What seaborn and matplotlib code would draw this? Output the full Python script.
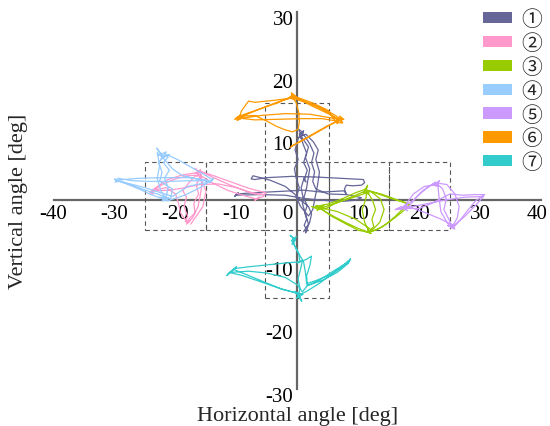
import matplotlib
matplotlib.use("Agg")
import matplotlib.pyplot as plt
import matplotlib.transforms as mtransforms
from matplotlib.patches import Patch, Rectangle
import seaborn as sns

sns.set_theme(style="white")
plt.rcParams["font.family"] = ["Liberation Serif", "Noto Sans CJK JP", "DejaVu Sans"]

# ---------------- data (degrees: horizontal, vertical) ----------------
labels = ["①", "②", "③", "④", "⑤", "⑥", "⑦"]
colors = ["#666699", "#FF99CC", "#99CC00", "#99CCFF", "#CC99FF", "#FF9900", "#33CCCC"]

traj1 = [(0.5, 10.5), (0.2, 11.3), (0.9, 10.8), (0.3, 10.0), (1.0, 11.1), (0.6, 9.8), (0.4, 10.6),
         (0.9, 9.0), (1.5, 7.5), (1.0, 6.0), (1.6, 4.8), (1.2, 3.5), (1.0, 3.3), (1.4, 2.9), (1.1, 3.6),
         (0.6, 2.0), (0.9, 0.5), (1.6, -0.8), (1.2, -2.0), (1.5, -3.0), (1.1, -4.0), (1.6, -4.8), (1.3, -5.2),
         (2.0, -3.5), (2.3, -2.2), (1.8, -1.0), (0.5, 0.0), (-0.5, 1.0), (-2.0, 2.2), (-4.5, 3.2), (-7.3, 3.9),
         (-7.6, 3.4), (-7.0, 3.3), (-5.0, 3.6), (-1.0, 3.8), (3.0, 3.7), (7.0, 3.5), (10.8, 3.3), (11.0, 2.8),
         (10.5, 2.4), (9.0, 2.3), (8.0, 2.4), (7.7, 1.8), (8.0, 1.0), (7.6, 1.5),
         (4.0, 1.3), (1.0, 1.6), (-3.0, 1.4), (-7.0, 1.2), (-10.0, 1.0), (-10.3, 0.6), (-9.7, 1.2), (-10.1, 0.8),
         (-6.0, 0.9), (-2.0, 0.8), (1.0, 0.3), (4.0, 0.0), (7.0, -0.2), (9.5, 0.0), (10.5, 0.4),
         (8.0, 0.9), (5.0, 1.0), (3.0, 1.8), (2.5, 3.0), (2.8, 4.5), (2.3, 6.0), (2.7, 7.5), (2.0, 9.0),
         (1.2, 10.2), (0.6, 10.8), (0.0, 9.5), (-0.4, 8.0), (0.1, 6.5), (-0.5, 5.0), (-0.2, 3.5), (0.3, 2.0),
         (-0.2, 0.5), (0.5, -1.0), (1.8, -2.5), (2.5, -1.5), (2.9, 0.5), (3.3, 2.5), (3.6, 4.5), (3.0, 6.5),
         (3.4, 8.0), (2.6, 9.3), (1.4, 10.5), (0.5, 10.3), (1.8, 8.5), (1.3, 6.8), (2.0, 5.0), (1.5, 2.0),
         (0.8, -0.5), (1.8, -3.8), (1.0, -5.0)]

traj2 = [(-16.3, 4.5), (-16.8, 5.1), (-15.8, 4.2), (-16.5, 3.8), (-15.9, 4.9), (-16.7, 4.3), (-16.1, 4.6),
         (-14.0, 4.0), (-12.0, 3.3), (-10.0, 2.6), (-8.0, 1.9), (-6.0, 1.4), (-5.2, 1.2),
         (-5.6, 0.6), (-6.5, 0.3), (-7.0, 0.0), (-6.2, 0.5), (-6.8, 0.2),
         (-9.0, 0.8), (-11.5, 1.6), (-14.0, 2.8), (-15.8, 3.9),
         (-16.6, 2.5), (-16.2, 1.0), (-17.0, -0.5), (-16.8, -2.0), (-17.8, -3.0), (-18.2, -3.8),
         (-17.6, -3.3), (-18.4, -3.4), (-18.0, -2.6),
         (-18.6, -1.0), (-18.2, 0.5), (-18.8, 1.5), (-17.8, 2.8), (-16.6, 4.0),
         (-18.0, 3.9), (-20.0, 3.4), (-22.0, 2.6), (-24.0, 1.4), (-23.6, 1.0), (-24.2, 1.2), (-23.4, 1.5),
         (-21.0, 1.6), (-19.0, 1.9), (-16.0, 2.5), (-13.0, 2.6), (-10.0, 2.0), (-7.0, 1.0), (-5.5, 0.9),
         (-8.0, 1.3), (-11.0, 2.4), (-14.0, 3.7), (-16.0, 4.7),
         (-15.6, 3.0), (-15.9, 1.0), (-16.3, -1.0), (-17.2, -2.8), (-18.0, -3.6),
         (-19.2, -2.0), (-19.5, -0.5), (-20.0, 1.0), (-21.5, 2.0), (-23.8, 1.6),
         (-21.5, 3.2), (-19.0, 4.0), (-16.5, 4.4), (-16.0, 3.6), (-15.0, 1.5), (-15.5, -1.0), (-17.5, -3.8)]

traj3 = [(3.5, -1.2), (2.3, -1.0), (3.5, -1.5), (4.3, -0.8), (3.2, -1.6), (4.0, -1.1), (3.0, -0.9), (4.5, -1.4),
         (6.0, -0.6), (8.0, 0.2), (10.0, 1.0), (11.2, 1.5),
         (11.5, 2.4), (10.9, 1.2), (11.7, 1.0), (11.1, 1.9), (11.4, 1.4),
         (12.3, 0.0), (12.8, -1.5), (12.2, -3.0), (12.5, -4.2), (11.6, -5.1),
         (11.2, -5.0), (12.1, -5.3), (11.5, -4.7), (11.9, -5.2),
         (10.0, -4.5), (8.0, -3.6), (6.0, -2.6), (4.0, -1.5),
         (3.0, -1.0), (5.0, -0.6), (7.5, 0.3), (9.5, 1.2), (11.0, 1.7),
         (13.0, 1.1), (15.0, 0.4), (17.0, -0.2), (18.4, -0.7),
         (17.0, -2.0), (15.0, -3.5), (13.2, -4.6), (12.0, -5.0),
         (13.5, -3.5), (14.2, -1.5), (13.6, 0.2), (12.0, 1.4),
         (9.0, 0.4), (6.0, -0.5), (3.8, -1.3),
         (5.5, -2.5), (8.0, -3.8), (10.0, -4.8), (11.8, -5.1),
         (11.0, -3.5), (10.6, -1.5), (11.2, 0.2), (11.4, 1.6),
         (14.0, 0.9), (16.5, 0.0), (18.2, -0.5), (16.0, -2.6), (14.0, -4.2), (12.4, -4.9),
         (9.5, -3.0), (6.5, -1.8), (3.5, -1.1)]

traj4 = [(-22.5, 7.5), (-23.1, 8.3), (-22.0, 7.0), (-21.0, 7.3), (-22.4, 6.6), (-21.5, 7.7), (-22.8, 7.2), (-21.2, 6.9),
         (-22.0, 6.0), (-21.0, 4.8), (-21.8, 3.5), (-21.2, 2.0), (-21.6, 0.3),
         (-22.2, -0.1), (-21.0, 0.3), (-22.6, 0.5), (-21.5, 0.0),
         (-24.0, 0.9), (-26.0, 1.8), (-28.0, 2.6), (-29.5, 3.1),
         (-30.0, 3.4), (-29.2, 3.0), (-29.9, 2.9), (-29.4, 3.5),
         (-27.0, 3.1), (-24.0, 3.0), (-21.0, 3.0), (-18.0, 3.1), (-14.0, 3.1),
         (-13.8, 3.5), (-14.4, 2.8), (-14.0, 3.3),
         (-15.5, 4.2), (-17.5, 5.3), (-19.5, 6.4), (-21.5, 7.3),
         (-22.8, 6.0), (-22.2, 4.5), (-22.6, 3.0), (-20.5, 1.8), (-20.8, 0.2),
         (-23.0, 1.0), (-25.5, 1.8), (-29.6, 3.2),
         (-26.0, 3.5), (-22.0, 3.6), (-18.0, 3.6), (-14.2, 3.1),
         (-16.0, 2.0), (-18.5, 0.8), (-21.3, -0.1),
         (-22.4, 1.5), (-23.0, 3.5), (-22.6, 5.5), (-23.0, 7.6),
         (-21.8, 6.5), (-20.5, 5.0), (-19.0, 4.0), (-16.5, 3.4), (-14.1, 3.0),
         (-18.0, 2.2), (-20.5, 0.6), (-25.0, 2.0), (-29.8, 3.2)]

traj5 = [(17.5, -1.3), (16.0, -1.5), (17.0, -1.0), (18.0, -1.7), (17.5, -0.8), (18.6, -1.2), (16.8, -1.4),
         (19.0, 0.0), (20.5, 1.5), (22.0, 2.5), (22.8, 2.7),
         (23.3, 3.1), (22.3, 2.4), (23.0, 2.2), (22.6, 2.9),
         (23.8, 1.8), (24.4, 0.2), (24.0, -1.5), (24.8, -3.0), (25.3, -4.2),
         (24.6, -4.0), (25.8, -4.6), (25.2, -3.8), (25.6, -4.3),
         (26.8, -3.0), (28.0, -1.5), (29.3, 0.0), (30.7, 0.9),
         (29.0, 0.9), (27.0, 0.8), (25.0, 1.0),
         (22.0, -0.5), (20.0, -1.3), (18.0, -1.3),
         (19.5, 0.5), (21.0, 1.8), (22.5, 2.8),
         (24.5, 2.5), (25.8, 1.0), (26.5, -1.0), (26.2, -2.8), (25.5, -4.0),
         (23.5, -3.0), (21.0, -2.0), (19.0, -1.3), (17.5, -1.0),
         (19.0, 1.0), (20.8, 2.2), (23.0, 2.5),
         (23.2, 0.5), (23.5, -1.8), (24.5, -3.5), (25.2, -4.4),
         (27.5, -2.5), (29.5, -0.5), (30.5, 0.6),
         (27.5, 0.5), (24.0, 0.0), (20.0, -0.8), (17.2, -1.3)]

traj6 = [(-1.0, 8.6), (1.0, 9.6), (3.0, 10.7), (5.0, 11.8), (6.7, 12.7),
         (7.1, 13.1), (6.5, 12.4), (7.4, 12.3), (6.9, 13.4), (7.6, 12.9), (6.6, 12.8),
         (5.0, 14.0), (3.0, 15.0), (1.0, 15.8), (-0.6, 16.4),
         (-1.0, 17.1), (-0.4, 16.0), (-1.4, 16.3), (-0.7, 16.9), (-0.2, 16.5),
         (-2.5, 15.9), (-5.0, 15.0), (-7.5, 14.0), (-9.5, 13.2),
         (-10.1, 13.0), (-9.3, 13.6), (-9.9, 12.7), (-8.8, 13.2), (-9.6, 13.4), (-10.3, 12.9),
         (-6.0, 13.5), (-2.0, 13.8), (2.0, 13.7), (5.0, 13.2), (6.8, 12.9),
         (7.2, 12.5), (6.7, 13.2),
         (4.5, 14.5), (2.0, 15.4), (0.0, 16.0), (-0.8, 16.6),
         (-3.0, 15.6), (-6.0, 14.6), (-9.0, 13.6), (-9.6, 13.0),
         (-9.2, 14.2), (-8.4, 15.3), (-8.0, 15.8), (-7.0, 15.6),
         (-4.0, 15.9), (-1.5, 16.2), (-0.8, 16.5),
         (-0.2, 15.5), (0.2, 14.0), (0.3, 12.5), (0.1, 11.3),
         (-0.8, 10.9), (-2.0, 11.2), (-3.5, 11.8), (-5.0, 12.6), (-7.0, 13.5), (-9.0, 13.4), (-9.7, 13.1),
         (-7.0, 12.8), (-3.0, 12.9), (1.0, 13.0), (4.0, 13.0), (6.6, 12.6),
         (7.0, 12.9), (6.5, 12.2),
         (5.0, 14.3), (2.5, 15.5), (0.5, 16.2), (-0.9, 16.7),
         (2.0, 15.2), (5.0, 13.8), (7.0, 12.8),
         (5.0, 11.9), (3.0, 10.8), (1.0, 9.7), (-0.8, 8.7), (-1.2, 8.4)]

traj7 = [(-0.7, -6.0), (-1.2, -5.6), (-0.3, -6.3), (-0.9, -7.0), (-0.2, -5.8), (-1.0, -6.4),
         (-0.3, -7.5), (0.2, -8.5), (0.4, -9.8), (0.0, -10.0), (0.8, -9.6),
         (0.5, -11.0), (0.1, -12.5), (0.4, -14.0), (0.2, -15.0),
         (-0.4, -14.5), (0.7, -16.1), (0.3, -15.2), (-0.2, -15.6), (0.9, -15.0),
         (-2.5, -14.2), (-5.0, -13.2), (-8.0, -12.0), (-10.5, -11.0),
         (-11.6, -12.0), (-10.0, -10.6), (-11.0, -11.4), (-11.4, -11.8), (-10.4, -10.9),
         (-8.0, -10.6), (-5.0, -10.3), (-2.0, -10.0), (0.4, -9.8),
         (1.5, -9.4), (2.3, -8.9), (2.0, -10.5), (1.5, -12.0), (1.6, -13.6),
         (3.5, -12.8), (6.0, -11.2), (8.5, -9.8), (8.7, -9.3), (8.0, -10.1), (8.4, -9.6),
         (6.0, -11.5), (3.5, -13.3), (1.5, -14.5), (0.5, -15.0),
         (-3.0, -14.0), (-6.0, -13.0), (-9.0, -12.0), (-11.2, -11.5),
         (-8.0, -11.3), (-5.0, -11.6), (-2.0, -12.3), (0.0, -13.5), (0.8, -14.6),
         (1.6, -13.6), (4.0, -12.8), (6.5, -11.5), (8.4, -10.0),
         (5.5, -11.8), (3.0, -12.8), (1.5, -13.3),
         (1.3, -11.5), (1.0, -9.8), (0.2, -8.5), (-0.5, -7.2), (-0.8, -6.0)]

trajectories = [traj1, traj2, traj3, traj4, traj5, traj6, traj7]

# dashed region boxes
band_edges_x = [-25, -15, -5.3, 5.1, 15, 25]
band_y = (-4.7, 6.1)
vert_box = (-5.3, 5.1, -15.5, 15.5)

x_ticks = [-40, -30, -20, -10, 0, 10, 20, 30, 40]
y_ticks = [-30, -20, -10, 10, 20, 30]

# ---------------- figure ----------------
fig = plt.figure(figsize=(5.5, 4.27), dpi=100)
ax = fig.add_axes([0.0973, 0.0876, 0.8872, 0.8822])
ax.set_xlim(-40, 40)
ax.set_ylim(-30, 30)

for traj, c in zip(trajectories, colors):
    xs = [p[0] for p in traj]
    ys = [p[1] for p in traj]
    sns.lineplot(x=xs, y=ys, sort=False, estimator=None, color=c, lw=0.9, ax=ax, legend=False)

box_kw = dict(fill=False, ls=(0, (4, 3)), lw=0.8, ec="#555555", zorder=1)
for a, b in zip(band_edges_x[:-1], band_edges_x[1:]):
    ax.add_patch(Rectangle((a, band_y[0]), b - a, band_y[1] - band_y[0], **box_kw))
ax.add_patch(Rectangle((vert_box[0], vert_box[2]), vert_box[1] - vert_box[0],
                       vert_box[3] - vert_box[2], **box_kw))

for s in ["top", "right"]:
    ax.spines[s].set_visible(False)
for s in ["left", "bottom"]:
    ax.spines[s].set_position(("data", 0))
    ax.spines[s].set_color("#666666")
    ax.spines[s].set_linewidth(1.6)
    ax.spines[s].set_zorder(0.5)

ax.set_xticks(x_ticks)
ax.set_yticks(y_ticks)
ax.set_xticklabels([str(v) for v in x_ticks])
ax.set_yticklabels([str(v) for v in y_ticks])
ax.tick_params(axis="both", direction="in", length=6, width=1.2, color="#444444",
               labelsize=15, labelcolor="black")
ax.tick_params(axis="x", pad=3)
ax.tick_params(axis="y", pad=3)

for lab in ax.get_xticklabels():
    if lab.get_text() == "0":
        lab.set_transform(lab.get_transform() + mtransforms.ScaledTranslation(-10 / 100, 0, fig.dpi_scale_trans))
    elif lab.get_text() == "40":
        lab.set_transform(lab.get_transform() + mtransforms.ScaledTranslation(-4 / 100, 0, fig.dpi_scale_trans))
for lab in ax.get_yticklabels():
    lab.set_transform(lab.get_transform() + mtransforms.ScaledTranslation(0, -5 / 100, fig.dpi_scale_trans))

ax.set_xlabel("Horizontal angle [deg]", fontsize=16)
ax.set_ylabel("Vertical angle [deg]", fontsize=16)
ax.xaxis.set_label_coords(0.5, -0.046)
ax.yaxis.set_label_coords(-0.052, 0.5)

handles = [Patch(facecolor=c, edgecolor="none") for c in colors]
leg = ax.legend(handles, labels, loc="upper left", bbox_to_anchor=(482.7 / 550, 1 - 9 / 427),
                bbox_transform=fig.transFigure, frameon=False, fontsize=15,
                handlelength=1.4, handleheight=0.45, handletextpad=0.45,
                labelspacing=0.09, borderpad=0, borderaxespad=0)
for t in leg.get_texts():
    t.set_family(["Noto Sans CJK JP", "DejaVu Sans"])

fig.savefig("out.png", dpi=100)
